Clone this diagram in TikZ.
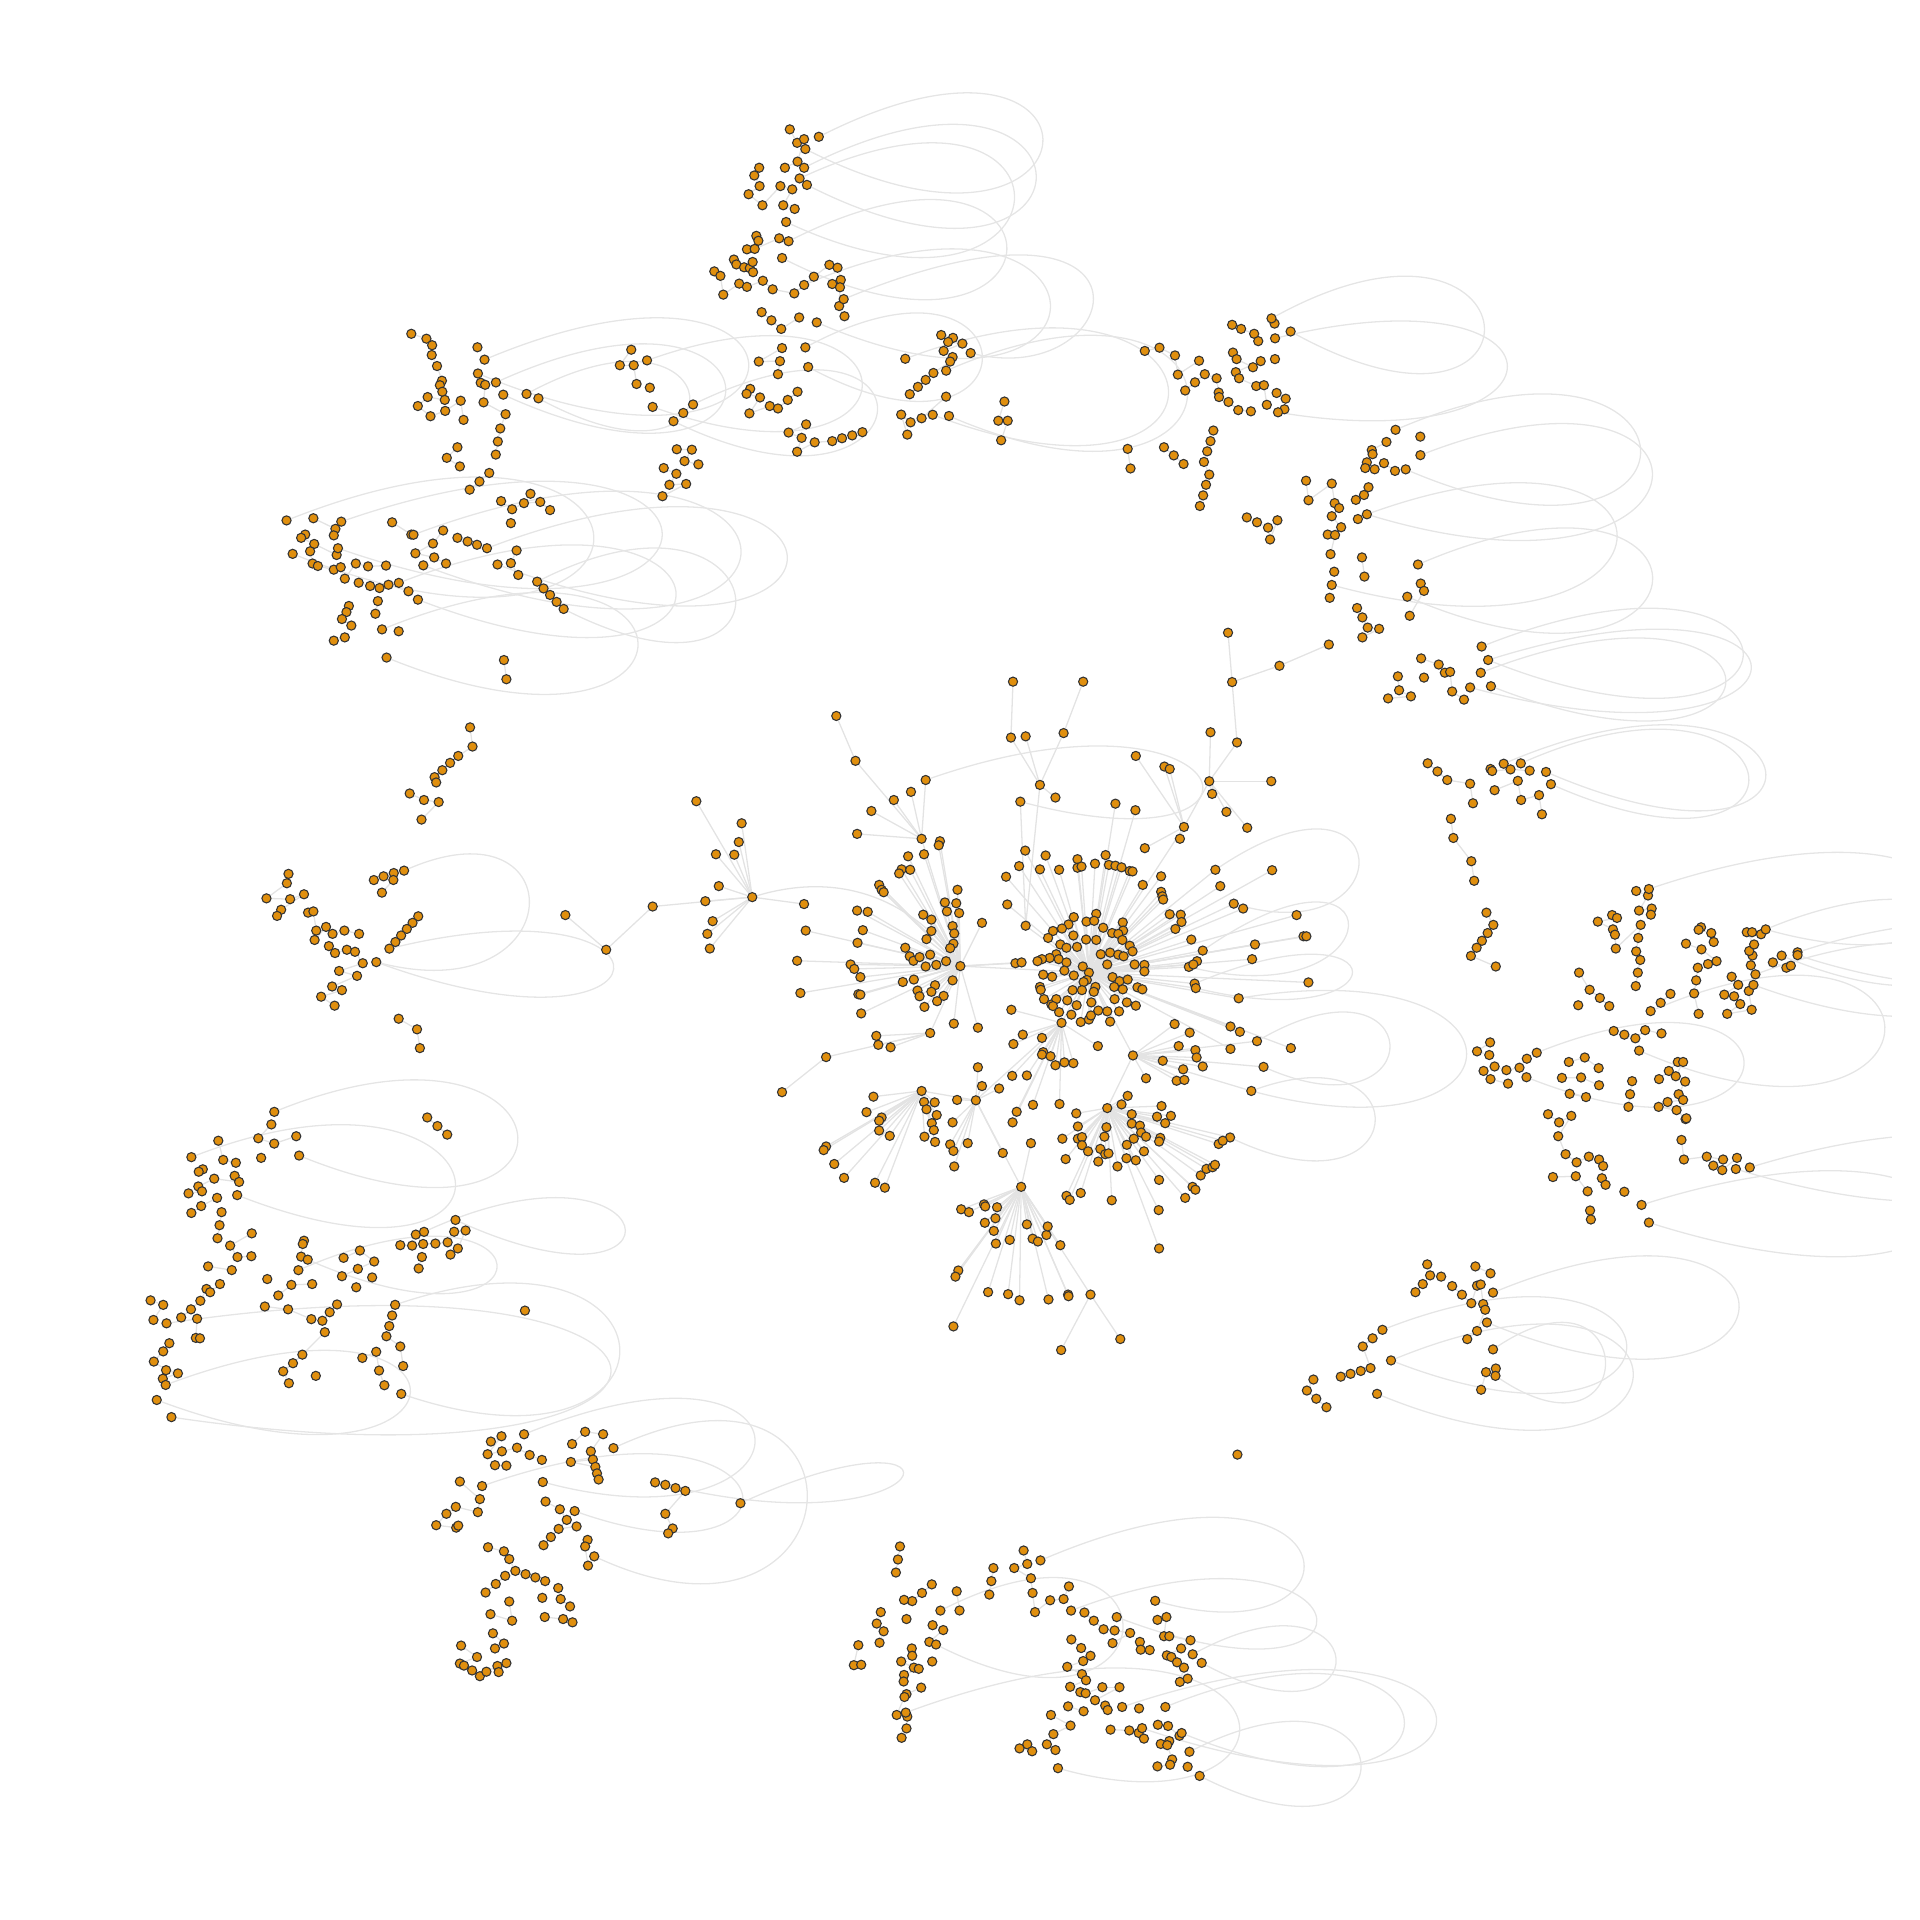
\documentclass[tikz,border=0pt]{standalone}
\usetikzlibrary{positioning}
\definecolor{vtx}{RGB}{224,143,14}
\pgfdeclarelayer{bg}
\pgfsetlayers{bg,main}

\def\ptsnw{1008/818, 1045/830, 1059/846, 1058/870, 1071/897, 1083/933, 1078/944, 1084/960, 1090/980, 1048/973, 1024/995, 1055/1020, 1091/1007, 1129/982, 1136/1029, 1170/851, 1178/938, 1189/943, 1185/986, 1239/1015, 1226/1050, 1220/1082, 1215/1114, 1121/1096, 1095/1122, 1127/1143, 1199/1159, 1175/1180, 1151/1200, 1300/1210, 1228/1228, 1255/1248, 1284/1233, 1324/1230, 1348/1250, 1252/1282, 768/1270, 822/1296, 818/1312, 748/1310, 738/1318, 770/1333, 825/1360, 760/1351, 766/1381, 779/1387, 818/1396, 835/1390, 845/1418, 872/1381, 902/1388, 946/1386, 879/1428, 907/1436, 930/1441, 952/1433, 1001/1449, 961/1280, 1008/1310, 1086/1300, 1061/1332, 1018/1356, 1064/1366, 1093/1381, 1121/1318, 1146/1327, 1169/1335, 1266/1349, 1252/1380, 1270/1409, 1332/1442, 1348/1458, 1364/1475, 926/1473, 920/1504, 855/1485, 849/1500, 838/1517, 861/1533, 977/1547, 845/1562, 818/1570, 1547/857, 1519/895, 1553/895, 1560/941}
\def\ptsnn{367/317, 385/350, 402/341, 386/396, 355/411, 292/411, 280/430, 293/456, 266/476, 300/503, 344/456, 373/464, 351/503, 379/512, 285/578, 290/590, 262/611, 281/610, 341/584, 230/636, 236/648, 255/655, 269/657, 276/642, 277/667, 182/665, 197/676, 204/722, 243/695, 262/703, 301/688, 325/709, 378/719, 426/678, 464/649, 484/656, 492/686, 471/696, 490/704, 488/750, 501/775, 298/765, 322/785, 346/806, 390/778, 348/853, 291/886, 343/885, 338/917, 270/953, 261/965, 294/974, 268/1013, 318/995, 338/1001, 362/980, 386/960, 407/1040, 364/1060, 396/1073, 385/1107, 428/1084, 471/1081, 495/1074, 520/1067, 545/1059, 24/950, 106/1012, 90/1101, 127/1102, 109/1130, 143/1138, 58/1147, 89/1161, 72/1188, 113/1186, 55/1216, 738/821, 767/828, 755/838, 790/842, 744/860, 766/875, 760/886, 719/914, 700/931, 681/948, 661/966, 750/972, 690/1025, 663/1035, 640/1016, 655/1065, 893/984, 878/1031, 901/1031, 885/1079, 1237/860, 1273/852, 1311/871, 1318/918, 1370/884, 1336/957, 1360/937, 1384/917, 1413/927, 1418/962, 1419/973, 1442/985, 1466/1005, 1497/1008, 1451/796, 1473/806, 1505/818, 1515/836, 1453/864, 1462/880, 1502/900, 1521/885, 1460/912, 1468/927, 1510/946, 1529/944, 1536/992, 1555/793, 1556/880, 1560/963, 1195/1100, 1202/1148, 1284/1096, 1308/1116, 1332/1137, 1405/1055, 1398/1081, 1390/1106, 1382/1132, 1395/1163, 1387/1188, 1380/1214, 1372/1240, 1487/1268, 1512/1280, 1539/1293, 1544/1322, 1562/1275}
\def\ptsne{14/977, 11/1003, 344/1070, 261/1083, 225/1103, 227/1113, 213/1133, 209/1147, 232/1150, 255/1135, 282/1154, 64/1178, 70/1226, 127/1185, 134/1233, 145/1245, 127/1265, 150/1292, 117/1310, 135/1311, 124/1358, 186/1225, 206/1213, 217/1194, 191/1272, 201/1366, 207/1413, 133/1401, 122/1465, 345/1430, 353/1448, 318/1509, 189/1490, 202/1513, 215/1538, 243/1541, 202/1562}
\def\ptsww{1235/49, 1241/96, 1152/214, 1158/261, 1123/284, 1103/301, 1084/319, 1065/336, 1069/349, 1004/376, 1039/392, 1075/397, 1033/440, 707/573, 703/596, 653/633, 711/635, 745/623, 689/661, 679/676, 755/668, 768/665, 775/712, 771/735, 799/703, 815/720, 844/712, 880/720, 806/750, 821/767, 850/759, 870/764, 889/792, 831/811, 875/823, 814/849, 838/858, 787/874, 820/896, 940/579, 965/571, 964/588, 936/619, 1025/677, 1011/693, 997/708, 983/724, 969/740, 977/928, 1022/954, 1029/1000, 665/1187, 633/1221, 672/1234, 726/1216, 640/1269, 535/1227, 547/1274, 578/1281, 497/1297, 487/1303, 575/1313, 586/1328, 525/1320, 486/1339, 495/1351, 462/1356, 532/1367, 493/1387, 469/1404, 543/1402, 538/1434, 533/1466, 617/1454, 564/1484, 582/1512, 616/1510, 510/1535, 568/1544, 1047/1170, 1072/1191, 1096/1212, 745/1472, 742/1480, 738/1511, 842/1514, 882/1496, 917/1523, 877/1541, 838/1559, 912/1562, 655/1566, 981/1483, 1010/1484, 1019/1457, 1037/1480, 1067/1479, 1097/1476, 1113/1450, 1141/1447, 1122/1491, 1104/1506, 1034/1512, 1026/1540}
\def\ptsee{346/45, 389/60, 404/80, 417/78, 422/126, 451/146, 353/92, 289/89, 292/123, 321/138, 265/143, 362/302, 386/322, 410/343, 466/352, 473/400, 516/316, 520/321, 565/317, 612/320, 526/368, 583/345, 591/392, 635/380, 642/427, 419/438, 425/485, 469/542, 476/590, 506/668, 523/698, 509/718, 495/737, 482/754, 468/774, 529/800, 873/615, 902/626, 880/663, 911/658, 909/673, 814/674, 826/681, 779/690, 816/709, 821/722, 823/756, 884/698, 878/730, 873/763, 883/784, 877/815, 872/848, 733/815, 759/857, 784/877, 807/897, 731/895, 933/889, 957/867, 1032/704, 1026/710, 1057/718, 1063/740, 995/744, 1033/758, 1070/787, 1049/794, 1024/803, 1020/834, 1015/866, 1026/916, 1107/825, 1123/845, 1089/869, 1113/873, 1128/892, 1096/916, 1156/906, 1149/860, 1154/797, 1158/773, 1150/762, 1162/746, 1144/716, 1157/716, 1179/721, 1208/790, 1241/803, 1252/798, 818/958, 844/967, 871/976, 895/956, 935/964, 515/986, 483/1008, 513/1017, 605/1026, 526/1045, 555/1054, 587/1048, 499/1056, 516/1076, 559/1087, 708/1034, 747/1023, 781/1049, 691/1073, 738/1072, 782/1091, 710/1112, 750/1120, 863/1081, 858/1113, 854/1144, 929/1076, 953/1056, 975/1034, 988/1034, 970/1069, 993/1082, 977/1113, 988/1127, 950/1132, 928/1144, 972/1152, 994/1174, 996/1172, 657/1162, 684/1182, 714/1166, 682/1216, 700/1260, 727/1280, 757/1266, 782/1273, 792/1289, 789/1319, 798/1335, 669/1316, 725/1314, 754/1351, 844/1352, 760/1398, 762/1420, 984/1225, 990/1273, 1046/1266, 1086/1273, 1062/1288, 1084/1299, 1120/1269, 361/1530, 368/1557, 395/1560, 479/1535, 516/1552}
\def\ptssw{369/50, 400/61, 376/98, 444/92, 468/72, 491/51, 506/22, 515/30, 539/10, 483/95, 480/142, 490/143, 415/155, 400/175, 377/200, 407/221, 436/229, 399/242, 682/38, 714/12, 765/10, 649/65, 706/72, 763/96, 790/100, 808/79, 826/60, 796/128, 741/183, 718/204, 694/224, 708/253, 774/235, 873/18, 961/87, 954/113, 947/138, 981/163, 988/211, 888/191, 922/176, 929/222, 942/258, 1203/396, 1229/383, 1195/427, 1230/420, 1267/411, 1298/429, 1328/441, 1213/454, 1241/455, 1402/402, 1434/372, 1478/378, 1448/420, 1453/440, 1399/446, 1459/458, 1463/474, 1467/489, 1127/494, 1176/537, 1171/569, 1117/556, 1094/573, 1069/601, 1118/607, 1123/602, 1337/543, 1372/562, 1389/588, 1369/610, 1413/604, 1350/630, 1332/650, 1440/637, 1434/653, 1441/700, 1196/655, 1235/665, 1248/684, 1263/713, 1288/721, 1312/729, 1336/738, 1238/725, 1215/745, 1190/766, 1368/755, 1374/782, 1397/800, 1329/779, 1248/788, 1255/835, 1202/819, 1335/826, 1380/831, 1403/839, 1208/866, 1235/891, 1213/903, 1130/896, 1169/924, 1127/940, 1137/945, 1157/957, 1176/971, 1192/960, 1219/946, 1222/961, 1241/939}
\def\ptsss{62/502, 87/510, 111/517, 62/573, 80/609, 69/621, 1464/428, 637/653, 632/685, 627/717, 715/746, 691/767, 667/787, 647/784, 776/763, 783/810, 866/706, 861/738, 856/771, 940/663, 949/696, 917/706, 958/731, 962/767, 968/814, 1005/785, 1038/782, 1051/751, 590/814, 580/842, 597/861, 587/889, 653/831, 717/846, 743/858, 709/887, 535/895, 524/944, 542/943, 666/903, 667/921, 640/935, 671/950, 683/953, 647/968, 646/984, 716/935, 689/999, 653/1015, 648/1022, 629/1066, 655/1070, 653/1099, 641/1122, 1089/815, 1112/835, 1136/856, 1163/859, 1201/865, 1158/890, 1225/887, 1227/906, 1249/907, 1057/881, 1081/902, 1104/921, 1086/934, 1047/948, 1083/966, 1093/981, 1054/997, 1079/1010, 1092/1013, 1133/998, 1175/998, 1115/1030, 1140/1043, 1146/1054, 1223/1050, 1049/1045, 1087/1057, 1268/833, 1290/826, 1284/873, 1297/873, 1349/883, 1326/903, 1291/920, 1302/924, 1316/937, 1333/950, 1323/985, 1342/977, 1269/1090, 1294/1093, 1322/1117, 1297/1130, 1276/1137, 1292/1140, 1304/1175, 1299/1188, 1268/1192, 1342/1193, 1007/1066, 1055/1092, 1013/1113, 997/1138, 1018/1152, 949/1138, 930/1148, 961/1155, 1153/1102, 1199/1104, 1222/1110, 1235/1124}
\def\ptsse{332/30, 350/10, 422/15, 446/36, 469/57, 483/14, 492/11, 498/59, 503/73, 483/125, 459/145, 227/143, 203/163, 222/216, 198/223, 173/230, 149/237, 82/244, 66/271, 89/291, 114/312, 529/217, 505/226, 493/269}

\def\leafP{138/395, 249/449, 242/495, 186/525, 231/526, 193/603, 160/640, 178/689, 165/720, 171/756, 402/647}
\def\leafQ{532/663, 558/666, 546/711, 533/742, 516/795, 525/806, 540/826, 535/868, 540/869, 542/915, 406/712, 385/786, 393/865, 650/754, 661/775, 670/786, 685/777, 711/771, 750/787, 726/796, 700/800, 671/832, 644/838, 766/834, 723/846, 714/862, 680/859, 685/873, 744/872, 728/885, 697/899, 694/673, 714/685, 766/701, 770/719, 714/713, 702/733, 768/744, 760/755, 778/612, 747/643, 775/645, 752/665, 782/669, 657/530, 641/562, 662/563, 635/572, 586/600, 592/612, 597/618, 735/493, 732/503, 696/525, 838/693, 920/792, 935/790, 769/940, 828/950}
\def\leafO{664/372, 622/392, 567/419, 532/475}
\def\leafM{945/236, 1018/386}
\def\leafR{1063/679, 1118/671, 1050/697, 1094/690, 1113/688, 1135/705, 1183/692, 1184/712, 1012/713, 1034/707, 1062/724, 1000/730, 1030/746, 1045/754, 1071/752, 1093/734, 1118/735, 1157/718, 1172/720, 1182/735, 1200/749, 1207/763, 1020/770, 1004/779, 1026/782, 985/782, 974/787, 1045/790, 1085/800, 1129/770, 1152/766, 1172/771, 1185/775, 1212/795, 1236/796, 1236/812, 988/820, 1010/825, 1040/810, 1063/822, 1095/833, 1087/838, 1145/795, 1158/826, 1175/836, 1195/832, 1219/851, 980/850, 982/857, 1060/858, 1083/858, 1116/850, 1112/862, 1162/850, 1183/856, 1231/856, 990/880, 1008/893, 1020/880, 1047/883, 1070/895, 1106/888, 1163/880, 1193/888, 1215/896, 1012/897, 1027/912, 1057/918, 1080/936, 1100/930, 1105/920, 1123/908, 1145/910, 1174/910, 1152/935, 944/516, 994/528, 897/580, 929/554, 980/562, 1027/563, 1072/537, 1072/558, 1082/555, 1115/548, 1141/527, 1149/551, 1165/553, 1180/557, 1200/566, 1207/567, 1232/600, 1277/579, 1277/617, 1280/628, 1282/636, 900/648, 1298/672, 1325/673, 1327/691, 1312/708, 1351/734, 1365/787, 1356/795, 1422/603, 1478/658, 1549/564, 1507/746, 1500/782, 1609/674, 1626/726, 1633/726, 1638/839, 1595/1000, 1447/947, 1470/960, 1447/1002, 1165/401, 1214/417}
\def\leafZ{1285/310, 1298/316, 1323/487, 1237/510, 1215/284}
\def\leafY{1398/226, 1547/346, 1402/377, 1437/421, 1488/460}
\def\leafS{985/975, 988/1010, 985/1016, 1006/1020, 1018/1042, 1040/1035, 1062/1037, 938/967, 915/990, 910/906, 912/1068, 948/1067, 963/1139, 1028/1137, 923/1156, 913/1182, 1122/995}
\def\leafT{1281/1031, 1320/995, 1310/941, 1347/962, 1361/1005, 1364/1023, 1379/1045, 1331/1052, 1315/1080, 1334/1078, 1240/1074}
\def\leafU{1069/1160, 1073/1192, 1035/1222, 1073/1222, 1083/1218, 1083/1238, 1098/1253, 1043/1272, 1123/1278, 1128/1247, 1140/1260, 1148/1258, 1138/1217, 1143/1194, 1180/1138, 1195/1117, 1205/1162, 1205/1185, 1225/1190, 1228/1207, 1210/1222, 1193/1237, 1240/1217, 1235/1253, 1215/1275, 1192/1270, 1170/1290, 1267/1168, 1278/1142, 1301/1166, 1287/1184, 1275/1220, 1272/1229, 1156/1373, 1080/1355, 1272/1323, 1418/1235, 1428/1227, 1374/1312, 1388/1296, 1403/1292, 1409/1286, 1354/1340, 1361/1347, 1336/1367, 1271/1397, 1272/1491, 1045/1362, 1053/1372}
\def\leafW{572/1119, 555/1157, 592/1170, 586/1178, 586/1202, 612/1215, 456/1241, 450/1250, 476/1284, 500/1318, 576/1330, 600/1342, 696/1132, 722/1133, 702/1150, 727/1164, 715/1184, 720/1201, 697/1217, 723/1230}
\def\leafX{777/1127, 766/1182, 760/1236, 768/1252, 803/1233, 770/1290, 838/1093, 880/1099, 828/1047, 889/1257}
\def\leafV{958/1233, 787/1395, 806/1402, 843/1383, 846/1388, 875/1390, 871/1417, 845/1428, 867/1448, 872/1479, 906/1470, 948/1432, 962/1467, 975/1474, 996/1458, 999/1437, 780/1545, 773/1560, 1030/1483, 853/1598, 902/1603, 930/1618, 1001/1616, 1049/1604, 1050/1608, 768/1682}
\def\leafwa{579/970, 584/992, 614/998}

\begin{document}
\begin{tikzpicture}[x=0.1mm, y=-0.1mm, dot/.style={circle, draw=black!80, line width=0.25pt, fill=vtx, inner sep=0pt, minimum size=0.75mm}, link/.style={black!11, line width=0.3pt}, loopline/.style={black!10, line width=0.3pt}, sheet/.style={x=0.03333mm, y=-0.03333mm}]
\useasboundingbox (0,0) rectangle (1568,1568);

% outer groups, one scope per sheet of the layout
\begin{scope}[shift={(0mm,0mm)}, sheet]
\foreach \x/\y [count=\i] in \ptsnw \node[dot] (nw\i) at (\x,\y) {};
\end{scope}
\begin{scope}[shift={(52.27mm,0mm)}, sheet]
\foreach \x/\y [count=\i] in \ptsnn \node[dot] (nn\i) at (\x,\y) {};
\end{scope}
\begin{scope}[shift={(104.53mm,0mm)}, sheet]
\foreach \x/\y [count=\i] in \ptsne \node[dot] (ne\i) at (\x,\y) {};
\end{scope}
\begin{scope}[shift={(0mm,-52.27mm)}, sheet]
\foreach \x/\y [count=\i] in \ptsww \node[dot] (ww\i) at (\x,\y) {};
\end{scope}
\begin{scope}[shift={(104.53mm,-52.27mm)}, sheet]
\foreach \x/\y [count=\i] in \ptsee \node[dot] (ee\i) at (\x,\y) {};
\end{scope}
\begin{scope}[shift={(0mm,-104.53mm)}, sheet]
\foreach \x/\y [count=\i] in \ptssw \node[dot] (sw\i) at (\x,\y) {};
\end{scope}
\begin{scope}[shift={(52.27mm,-104.53mm)}, sheet]
\foreach \x/\y [count=\i] in \ptsss \node[dot] (ss\i) at (\x,\y) {};
\end{scope}
\begin{scope}[shift={(104.53mm,-104.53mm)}, sheet]
\foreach \x/\y [count=\i] in \ptsse \node[dot] (se\i) at (\x,\y) {};
\end{scope}

% central component
\begin{scope}[shift={(52.27mm,-52.27mm)}, sheet]
\foreach \n/\x/\y in {P/275/630, Q/785/799, R/1100/815, O/690/487, M/980/355, S/1033/938, T/1208/1018, U/1145/1147, V/934/1340, W/690/1105, X/823/1128, Y/1395/346, Z/1333/458}
  \node[dot] (\n) at (\x,\y) {};
\foreach \n/\x/\y in {pc/31/653, pa/-83/759, pb/-183/674, oa/528/296, ob/481/186, ma/909/239, mb/1038/228, mc/914/102, md/1086/102, mm/945/700, ya/1463/251, yb/1451/103, yc/1441/-18, yd/1567/63, ye/1688/11, wa/711/963, wb/456/1022, wc/348/1108, va/1104/1604, vb/1032/1740, vc/1177/1713, j1/700/343, j2/932/396, j3/1410/563, j4/1455/646, j5/1379/761, j6/1345/801, j7/1359/842, j8/1362/853, j9/1467/878, j10/1498/1105, j11/1512/983, j12/1528/1046, j13/1446/1219}
  \node[dot] (\n) at (\x,\y) {};
\foreach \x/\y [count=\i] in \leafP \node[dot] (Pl\i) at (\x,\y) {};
\foreach \x/\y [count=\i] in \leafQ \node[dot] (Ql\i) at (\x,\y) {};
\foreach \x/\y [count=\i] in \leafO \node[dot] (Ol\i) at (\x,\y) {};
\foreach \x/\y [count=\i] in \leafM \node[dot] (Ml\i) at (\x,\y) {};
\foreach \x/\y [count=\i] in \leafR \node[dot] (Rl\i) at (\x,\y) {};
\foreach \x/\y [count=\i] in \leafZ \node[dot] (Zl\i) at (\x,\y) {};
\foreach \x/\y [count=\i] in \leafY \node[dot] (Yl\i) at (\x,\y) {};
\foreach \x/\y [count=\i] in \leafS \node[dot] (Sl\i) at (\x,\y) {};
\foreach \x/\y [count=\i] in \leafT \node[dot] (Tl\i) at (\x,\y) {};
\foreach \x/\y [count=\i] in \leafU \node[dot] (Ul\i) at (\x,\y) {};
\foreach \x/\y [count=\i] in \leafW \node[dot] (Wl\i) at (\x,\y) {};
\foreach \x/\y [count=\i] in \leafX \node[dot] (Xl\i) at (\x,\y) {};
\foreach \x/\y [count=\i] in \leafV \node[dot] (Vl\i) at (\x,\y) {};
\foreach \x/\y [count=\i] in \leafwa \node[dot] (wal\i) at (\x,\y) {};
\end{scope}

% loop ends
\foreach \n/\x/\y in {a1/395.7/293.7, a2/390.3/305, a3/405/312.3, a4/411/322.3, a5/430/321.7, a6/439.7/325.3, a7/234/425, a8/239/452.3, a9/278.7/426, a10/276/447.7, a11/337.7/436.7, a12/345.7/461.7, a13/397.7/447.7, a14/406.3/461, a15/438.7/475, a16/460.3/497.3, a17/325.7/476, a18/341.3/489.7, a19/312/514, a20/315.7/537,
  b1/668.7/111.7, b2/657.7/121.7, b3/656.7/137, b4/659/151, b5/653/145.7, b6/642/181.3, b7/644/197, b8/638.7/210.7, b9/689/244.3, b10/792.7/288.3, b11/656.7/232.7, b12/667/263.3, b13/657.7/283.7, b14/660/299.7, b15/772.7/302.7, b16/775/339.7, b17/739.3/293, b18/761.7/338.7, b19/528.4/294.3, b20/533/332.3, b21/566/330.3, b22/550/344,
  c1/1038.4/260, c2/1054/270.7, c3/1041.3/276.3, c4/1043.7/336.7, c5/1139.7/351, c6/1148/383.3, c7/1160/371.7, c8/1116.3/420, c9/1087.6/477.7, c10/1158/461, c11/1149.3/487.3,
  d1/1210/528, d2/1215.3/539, d3/1209.3/549.4, d4/1217.6/560.4, d5/1200.6/561.4, d6/1228/623.7, d7/1262.6/630.4, d8/1242/623.4, d9/1266.6/640.4,
  e1/1348/825.7, e2/1338.6/858, e3/1346.6/726, e4/1442/759, e5/1468/777.7, e6/1468/780, e7/1455/780.4, e8/1429/953.4, e9/1417.6/954.7, e10/1340.6/984, e11/1346.6/998.4, e12/1433.6/795.7, e13/1432/804.3, e14/1255/859.7, e15/1246.6/879.7,
  f1/1219.3/1055.6, f2/1214.3/1080, f3/1129/1086, f4/1136/1111, f5/1124.6/1138.3, f6/1219.3/1102, f7/1221.3/1123.6,
  g1/849.7/1274.3, g2/943.4/1307.3, g3/768/1315.3, g4/764.4/1343, g5/951.7/1394, g6/965/1415.3, g7/971.4/1430.6, g8/979.7/1450.3, g9/916.4/1394, g10/932.7/1411.3, g11/739.7/1398.6, g12/864/1444, g13/874.7/1315.3, g14/912/1320.6, g15/974/1351, g16/981.4/1358,
  h1/428/1171.3, h2/443.3/1210.3, h3/393.7/1213.6, h4/469.3/1234, h5/501/1182.6, h6/485.3/1271, h7/135.3/1131, h8/128/1143.3, h9/322.7/1065.6, h10/327.7/1138.3, h11/224/908, h12/244.3/943.7, h13/156.3/945, h14/193.7/976, h15/346.3/1006, h16/372/996.3, h17/243.7/1037.3, h18/251.3/1028.7, h19/136/1080.7, h20/140/1157.3, h21/428.7/1070.3, h22/604.7/1227.6, h23/535/1210.6,
  i1/330/711, i2/318/774.7, i3/307.3/785.7, i4/305.3/718.7}
  \node[dot] (\n) at (\x,\y) {};

% all connectors, behind the nodes
\begin{pgfonlayer}{bg}
\foreach \t in {nw,nn,ne,ww,ee,sw,ss,se}{
  \edef\ptlist{\csname pts\t\endcsname}
  \foreach \x/\y [count=\i, remember=\x as \px (initially 9000), remember=\y as \py (initially 9000)] in \ptlist {
    \pgfmathtruncatemacro\near{and(abs(\x-\px)<62,abs(\y-\py)<62)}
    \ifnum\near=1 \pgfmathtruncatemacro\j{\i-1}\draw[link] (\t\j) -- (\t\i);\fi
  }
}
\foreach \h in {P,Q,O,M,R,Z,Y,S,T,U,W,X,V,wa}{
  \edef\ptlist{\csname leaf\h\endcsname}
  \foreach \x/\y [count=\i] in \ptlist \draw[link] (\h) -- (\h l\i);
}
\foreach \a/\b in {P/pc, pc/pa, pa/pb, O/Q, O/j1, O/oa, oa/ob, Q/R, M/ma, M/mb, ma/mc, mb/md, M/mm, j2/mm, mm/R, Z/R, Z/Y, Y/ya, ya/yb, yb/yc, yb/yd, yd/ye, R/S, R/T, T/U, S/X, X/W, X/V, wa/Q, wa/wb, wb/wc, V/va, va/vb, va/vc, R/j3, R/j4, R/j5, R/j6, R/j7, R/j8, R/j9, T/j10, T/j11, T/j12, U/j13}
  \draw[link] (\a) -- (\b);
\draw[link] (P) to[bend left=35] (Q);
\begin{scope}
\clip (0,0) rectangle (1545,1568);
\foreach \s/\e/\as/\bs/\ae/\be in {a1/a2/290/120/290/120, a3/a4/245/110/245/110, a5/a6/170/90/170/90, a7/a8/330/130/330/130, a9/a10/350/120/350/120, a11/a12/350/130/350/130, a13/a14/320/120/320/120, a17/a18/290/110/290/110, a15/a16/200/100/200/100, a19/a20/275/110/275/110,
  b1/b2/250/125/250/125, b3/b4/250/125/250/125, b5/b6/240/110/240/110, b7/b8/240/120/240/120, b9/b10/270/110/130/30, b11/b12/260/110/260/110, b13/b14/190/100/190/100, b15/b16/260/110/260/110, b17/b18/270/100/270/100, b19/b20/230/80/230/80, b21/b22/210/100/210/100,
  c1/c2/220/120/220/120, c3/c4/250/60/250/40, c5/c6/260/110/260/110, c7/c8/260/100/300/90, c8/c9/280/100/300/80, c10/c11/260/110/260/110,
  d1/d2/280/110/280/110, d3/d4/260/100/260/100, d2/d5/290/90/300/80, d6/d7/260/110/260/110, d8/d9/230/100/230/100,
  e1/e2/260/110/260/110, e3/e4/300/100/220/60, e5/e6/250/80/250/80, e4/e7/220/90/220/90, e8/e9/300/90/300/90, e10/e11/320/100/320/100, e12/e13/250/90/250/90, e14/e15/230/90/230/90,
  f1/f2/270/110/270/110, f3/f4/260/100/260/100, f4/f5/270/110/270/110, f6/f7/120/80/120/80,
  g1/g2/260/110/180/50, g3/g4/200/100/200/100, g5/g6/250/100/250/100, g7/g8/180/90/180/90, g9/g10/330/110/330/110, g11/g12/330/120/220/60, g13/g14/240/90/240/90, g15/g16/150/80/150/80,
  h1/h2/250/100/230/60, h3/h4/260/90/200/70, h5/h6/220/100/220/100, h7/h8/270/100/270/100, h9/h10/240/80/240/80, h11/h12/250/100/250/100, h13/h14/260/100/260/100, h15/h16/200/90/200/90, h17/h18/210/90/210/90, h19/h20/480/70/480/70, h22/h23/200/90/240/60,
  i1/i3/140/60/160/40, i2/i3/250/60/250/90,
  j1/j2/260/90/230/60, j3/j4/150/100/140/40, j5/j6/160/110/170/40, j7/j8/170/70/170/40, j9/j10/250/40/230/60, j11/j12/140/80/140/60, j10/j13/140/50/150/70}
  \draw[loopline] (\s) .. controls +(\as,-\bs) and +(\ae,\be) .. (\e);
\end{scope}
\end{pgfonlayer}
\end{tikzpicture}
\end{document}
